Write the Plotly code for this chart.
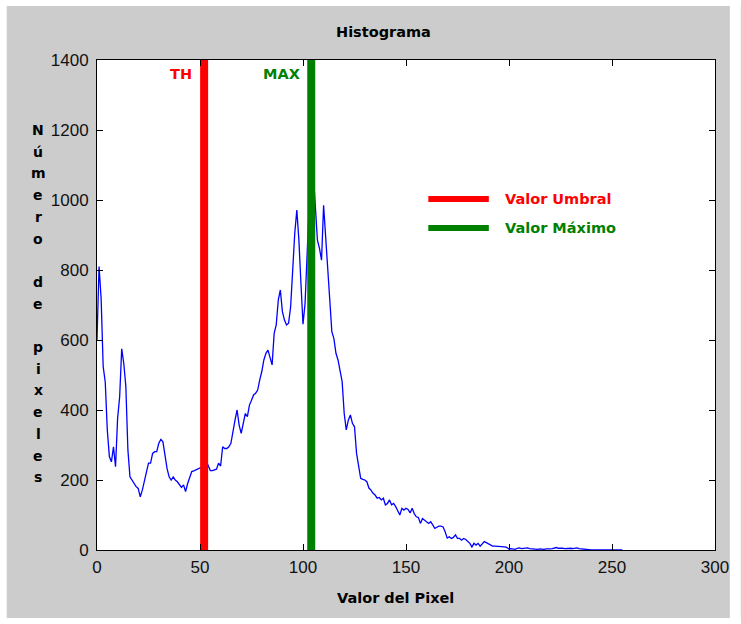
import plotly.graph_objects as go

# ---------------- data ----------------
pixel_values = list(range(256))
counts = [
    600, 810, 719, 524, 480, 343, 267, 252, 295, 238,    # 0-9
    376, 438, 575, 533, 467, 286, 209, 200, 190, 181,    # 10-19
    176, 152, 171, 200, 229, 248, 248, 276, 281, 281,    # 20-29
    305, 316, 309, 267, 233, 209, 200, 209, 200, 195,    # 30-39
    186, 179, 186, 167, 190, 209, 224, 226, 229, 230,    # 40-49
    233, 238, 240, 255, 238, 227, 227, 229, 231, 248,    # 50-59
    240, 295, 290, 290, 295, 305, 333, 371, 400, 357,    # 60-69
    333, 362, 390, 381, 414, 428, 443, 448, 457, 486,    # 70-79
    510, 543, 562, 571, 548, 529, 619, 643, 714, 743,    # 80-89
    681, 657, 643, 648, 695, 810, 905, 971, 886, 762,    # 90-99
    645, 704, 850, 985, 930, 1076, 981, 885, 862, 828,   # 100-109
    985, 900, 790, 700, 624, 604, 562, 543, 514, 481,    # 110-119
    390, 343, 371, 386, 362, 352, 276, 238, 205, 202,    # 120-129
    200, 195, 177, 171, 162, 157, 148, 150, 143, 148,    # 130-139
    129, 133, 143, 129, 133, 124, 114, 100, 119, 114,    # 140-149
    119, 116, 106, 119, 104, 95, 93, 76, 90, 85,         # 150-159
    81, 76, 81, 71, 62, 65, 68, 68, 66, 52,              # 160-169
    34, 38, 33, 36, 43, 33, 33, 28, 33, 30,              # 170-179
    24, 19, 9, 19, 14, 19, 11, 19, 24, 21,               # 180-189
    17, 13, 11, 11, 11, 11, 10, 10, 9, 7,                # 190-199
    3, 4, 3, 2, 5, 6, 4, 5, 7, 6,                        # 200-209
    4, 3, 2, 3, 2, 3, 2, 2, 3, 2,                        # 210-219
    3, 4, 6, 7, 5, 6, 5, 4, 5, 6,                        # 220-229
    5, 4, 5, 6, 4, 3, 2, 1, 1, 0,                        # 230-239
    0, 0, 0, 0, 0, 0, 0, 0, 0, 0,                        # 240-249
    0, 0, 0, 0, 0, 0,                                    # 250-255
]
threshold_value = 52
max_value = 104
y_limits = [0, 1400]
x_ticks = [0, 50, 100, 150, 200, 250, 300]
y_ticks = [0, 200, 400, 600, 800, 1000, 1200, 1400]

title_text = "Histograma"
x_label = "Valor del Pixel"
y_label_letters = ["N", "ú", "m", "e", "r", "o", "", "d", "e", "", "p", "i", "x", "e", "l", "e", "s"]
th_label = "TH"
max_label = "MAX"
legend_labels = ["Valor Umbral", "Valor Máximo"]

RED = "#ff0000"
GREEN = "#008000"
BG = "#cccccc"
BOLD = "DejaVu Sans"

# ---------------- layout geometry (pixels) ----------------
W, H = 741, 624
L, R, T, B = 97, 720, 60, 550
pw, ph = R - L, B - T


def px(xp):
    return (xp - L) / pw


def py(yp):
    return (B - yp) / ph


fig = go.Figure()
fig.add_trace(go.Scatter(x=pixel_values, y=counts, mode="lines",
                         line=dict(color="#0000ff", width=1.3),
                         showlegend=False, hoverinfo="skip"))
fig.add_trace(go.Scatter(x=[threshold_value, threshold_value], y=y_limits, mode="lines",
                         line=dict(color=RED, width=8), showlegend=False))
fig.add_trace(go.Scatter(x=[max_value, max_value], y=y_limits, mode="lines",
                         line=dict(color=GREEN, width=8), showlegend=False))

annotations = []
annotations.append(dict(text="<b>%s</b>" % title_text, x=px(386), y=py(32), xref="paper", yref="paper",
                        showarrow=False, xanchor="center", yanchor="middle",
                        font=dict(family=BOLD, size=14.5, color="black")))
annotations.append(dict(text="<b>%s</b>" % x_label, x=px(398), y=py(598), xref="paper", yref="paper",
                        showarrow=False, xanchor="center", yanchor="middle",
                        font=dict(family=BOLD, size=14.5, color="black")))
for i, ch in enumerate(y_label_letters):
    if not ch:
        continue
    annotations.append(dict(text="<b>%s</b>" % ch, x=px(38), y=py(130 + 21.7 * i), xref="paper", yref="paper",
                            showarrow=False, xanchor="center", yanchor="middle",
                            font=dict(family=BOLD, size=14, color="black")))
annotations.append(dict(text="<b>%s</b>" % th_label, x=px(195), y=py(74), xref="paper", yref="paper",
                        showarrow=False, xanchor="right", yanchor="middle",
                        font=dict(family=BOLD, size=14.5, color=RED)))
annotations.append(dict(text="<b>%s</b>" % max_label, x=px(304), y=py(74), xref="paper", yref="paper",
                        showarrow=False, xanchor="right", yanchor="middle",
                        font=dict(family=BOLD, size=14.5, color=GREEN)))
for lab, col, yp in zip(legend_labels, [RED, GREEN], [199, 228]):
    annotations.append(dict(text="<b>%s</b>" % lab, x=px(506), y=py(yp), xref="paper", yref="paper",
                            showarrow=False, xanchor="left", yanchor="middle",
                            font=dict(family=BOLD, size=14.5, color=col)))

shapes = []
for col, yp in zip([RED, GREEN], [199, 228]):
    shapes.append(dict(type="line", xref="paper", yref="paper", x0=px(431), x1=px(492),
                       y0=py(yp), y1=py(yp), line=dict(color=col, width=6)))
# white outer border around the grey figure
white = dict(type="rect", xref="paper", yref="paper", fillcolor="white", line=dict(width=0), layer="below")
shapes.append(dict(white, x0=px(-5), x1=px(W + 5), y0=py(6), y1=py(-5)))
shapes.append(dict(white, x0=px(-5), x1=px(6), y0=py(-5), y1=py(H + 5)))
shapes.append(dict(white, x0=px(735), x1=px(W + 5), y0=py(-5), y1=py(H + 5)))
shapes.append(dict(white, x0=px(-5), x1=px(W + 5), y0=py(618), y1=py(H + 5)))

axis_common = dict(showgrid=False, zeroline=False, showline=True, linecolor="black", linewidth=1,
                   mirror="allticks", ticks="inside", ticklen=6, tickcolor="black", tickwidth=1,
                   tickfont=dict(family="Liberation Sans", size=17, color="#111111"))

fig.update_layout(
    width=W, height=H,
    margin=dict(l=L, r=W - R, t=T, b=H - B, pad=0),
    paper_bgcolor=BG, plot_bgcolor="white",
    xaxis=dict(range=[0, 300], tickvals=x_ticks, ticklabelstandoff=2, **axis_common),
    yaxis=dict(range=y_limits, tickvals=y_ticks, ticklabelstandoff=4, **axis_common),
    annotations=annotations, shapes=shapes, showlegend=False,
)

fig.write_html("out.html")
